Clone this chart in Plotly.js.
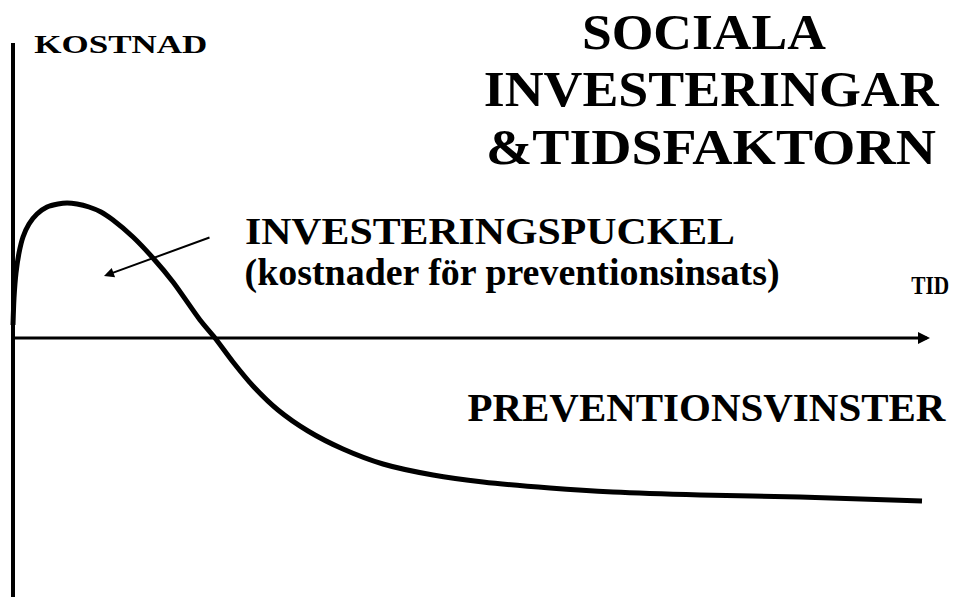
<!DOCTYPE html>
<html>
<head>
<meta charset="utf-8">
<script src="https://cdn.plot.ly/plotly-3.0.1.min.js"></script>
<style>html,body{margin:0;padding:0;background:#fff;}#chart{width:956px;height:597px;}</style>
</head>
<body>
<div id="chart"></div>
<script>
// Curve: time (arbitrary units) vs net cost (arbitrary units, + = cost, - = gain)
const tid = [0, 1, 3, 6, 10, 16, 24, 34, 45, 54, 64, 76, 88, 100, 120, 140, 160, 187, 202, 220, 240, 265, 295, 330, 370, 420, 470, 537, 600, 687, 787, 909];
const kostnad = [13, 40, 65, 85, 101, 114, 124, 131, 134, 135, 134, 131, 126, 118, 101, 80, 56, 18, 0, -24, -48, -72, -93, -111, -126, -137, -144, -150, -154, -157, -159, -163];

const titleLines = ["SOCIALA", "INVESTERINGAR", "&TIDSFAKTORN"];
const yLabel = "KOSTNAD";
const xLabel = "TID";
const humpLabel = "INVESTERINGSPUCKEL";
const humpSub = "(kostnader för preventionsinsats)";
const gainLabel = "PREVENTIONSVINSTER";

const FONT = 'Liberation Serif';

const trace = {
  x: tid, y: kostnad, type: 'scatter', mode: 'lines',
  line: {color: '#000', width: 5, shape: 'spline', smoothing: 0.8},
  hoverinfo: 'skip', showlegend: false
};

// stretched widths (the slide text is wider than the plain font)
const stretch = {};
function txt(text, cx, cy, size, width) {
  stretch[text] = width;
  return {text: text, xref: 'paper', yref: 'paper', x: cx / 956, y: 1 - cy / 597,
    xanchor: 'center', yanchor: 'middle', showarrow: false, borderpad: 0,
    font: {family: FONT, size: size, color: '#000', weight: 'bold'}};
}

const annotations = [
  txt(yLabel, 121, 45, 25, 173),
  txt(titleLines[0], 704, 32, 50, 244),
  txt(titleLines[1], 711, 89, 50, 455),
  txt(titleLines[2], 711, 147, 50, 450),
  txt(humpLabel, 490, 231, 37, 490),
  txt(humpSub, 512, 273, 37, 535),
  txt(xLabel, 930, 285, 25, 38),
  txt(gainLabel, 707, 407, 40, 478),
  // time axis arrow
  {x: 917, y: 0, ax: 0, ay: 0, xref: 'x', yref: 'y', axref: 'x', ayref: 'y', text: '',
   showarrow: true, arrowhead: 2, arrowsize: 0.8, arrowwidth: 3, arrowcolor: '#000'},
  // pointer arrow to hump
  {x: 91, y: 62, ax: 198, ay: 101, xref: 'x', yref: 'y', axref: 'x', ayref: 'y', text: '',
   showarrow: true, arrowhead: 2, arrowsize: 1, arrowwidth: 2, arrowcolor: '#000'}
];

const shapes = [
  {type: 'line', xref: 'x', yref: 'y', x0: 0, x1: 0, y0: -259, y1: 295, line: {color: '#000', width: 4}}
];

const layout = {
  width: 956, height: 597,
  margin: {l: 0, r: 0, t: 0, b: 0},
  paper_bgcolor: '#fff', plot_bgcolor: '#fff',
  xaxis: {range: [-13, 943], visible: false, fixedrange: true},
  yaxis: {range: [-259, 338], visible: false, fixedrange: true},
  annotations: annotations, shapes: shapes, showlegend: false
};

Plotly.newPlot('chart', [trace], layout, {staticPlot: true, displayModeBar: false}).then(function () {
  document.querySelectorAll('#chart .annotation-text').forEach(function (el) {
    const w = stretch[el.textContent];
    if (w) {
      el.setAttribute('textLength', w);
      el.setAttribute('lengthAdjust', 'spacingAndGlyphs');
    }
  });
});
</script>
</body>
</html>
